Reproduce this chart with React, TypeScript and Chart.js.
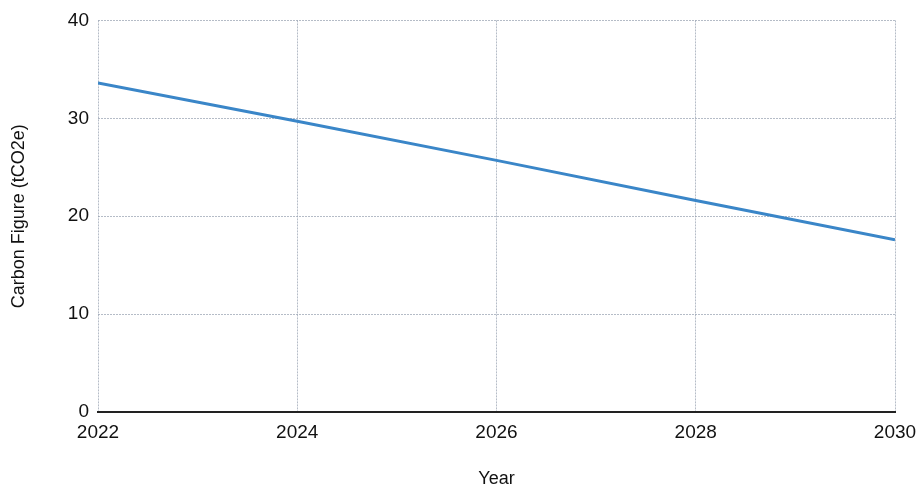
import React, { useEffect, useRef } from "react";
import { Chart, registerables } from "chart.js";

Chart.register(...registerables);

const years = [2022, 2024, 2026, 2028, 2030];
const carbon = [33.6, 29.7, 25.7, 21.6, 17.6];
const yTicks = [0, 10, 20, 30, 40];
const xTitle = "Year";
const yTitle = "Carbon Figure (tCO2e)";

export default function App() {
  const ref = useRef<HTMLCanvasElement | null>(null);
  useEffect(() => {
    document.body.style.margin = "0";
    const canvas = ref.current!;
    const font = "'Liberation Sans', Arial, sans-serif";
    const grid = {
      color: "rgba(150,160,175,0.7)",
      lineWidth: 1,
      drawTicks: false,
    };
    const chart = new Chart(canvas, {
      type: "line",
      data: {
        datasets: [
          {
            data: years.map((y, i) => ({ x: y, y: carbon[i] })),
            borderColor: "#3a86c8",
            borderWidth: 3,
            pointRadius: 0,
            tension: 0,
            fill: false,
          },
        ],
      },
      options: {
        animation: false,
        responsive: false,
        devicePixelRatio: 1,
        layout: { padding: { left: 0, right: 21, top: 20, bottom: -3 } },
        plugins: { legend: { display: false }, tooltip: { enabled: false } },
        scales: {
          x: {
            type: "linear",
            min: years[0],
            max: years[years.length - 1],
            afterBuildTicks: (s: any) => {
              s.ticks = years.map((v) => ({ value: v }));
            },
            afterFit: (s: any) => {
              s.height = 78;
              s.paddingRight = 0;
              s.paddingLeft = 0;
            },
            ticks: {
              callback: (v: any) => String(v),
              color: "#111",
              font: { family: font, size: 19 },
              padding: 9,
              maxRotation: 0,
              autoSkip: false,
            },
            grid: grid as any,
            border: { display: true, color: "#222", width: 2, dash: [2, 1] },
            title: {
              display: true,
              text: xTitle,
              color: "#111",
              font: { family: font, size: 18 },
              padding: { top: 0, bottom: 0 },
            },
          },
          y: {
            type: "linear",
            min: yTicks[0],
            max: yTicks[yTicks.length - 1],
            afterBuildTicks: (s: any) => {
              s.ticks = yTicks.map((v) => ({ value: v }));
            },
            afterFit: (s: any) => {
              s.width = 98;
            },
            ticks: {
              color: "#111",
              font: { family: font, size: 19 },
              padding: 9,
            },
            grid: grid as any,
            border: { display: false, dash: [2, 1] },
            title: {
              display: true,
              text: yTitle,
              color: "#111",
              font: { family: font, size: 18 },
              padding: { top: 8, bottom: 0 },
            },
          },
        },
      },
    });
    return () => chart.destroy();
  }, []);
  return (
    <div style={{ width: 916, height: 487 }}>
      <canvas ref={ref} width={916} height={487} style={{ width: 916, height: 487 }} />
    </div>
  );
}
